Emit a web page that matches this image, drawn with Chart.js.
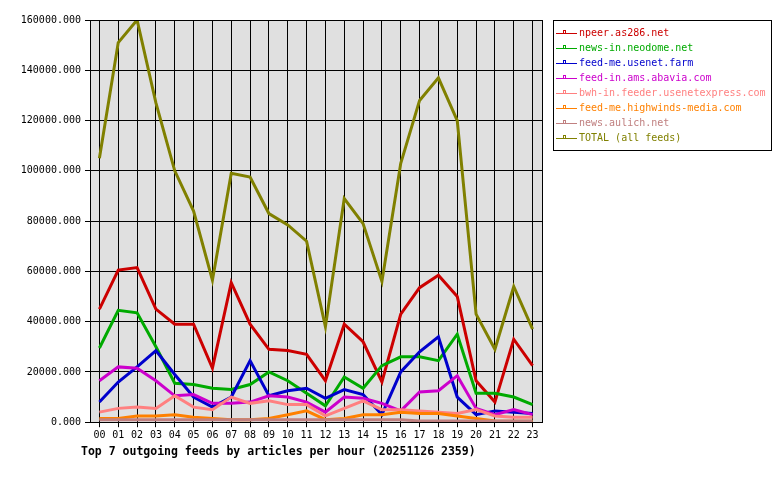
<!DOCTYPE html>
<html lang="en">
<head>
  <meta charset="UTF-8">
  <title>Top 7 outgoing feeds</title>
  <style>
    body {
      margin: 0;
      background-color: white;
    }
    .container {
      width: 780px;
      height: 480px;
      position: relative;
    }
  </style>
  <script src="https://cdn.jsdelivr.net/npm/chart.js"></script>
</head>
<body>
  <div class="container">
    <canvas id="feedChart" width="780" height="480"></canvas>
  </div>

  <script>
    const hours = ['00','01','02','03','04','05','06','07','08','09','10','11',
                   '12','13','14','15','16','17','18','19','20','21','22','23'];

    const npeer     = [45000, 60500, 61500, 45000, 39000, 39000, 21500, 55500, 39000, 29000, 28500, 27000,
                       16500, 39000, 32000, 16000, 43000, 53500, 58500, 50000, 16500, 8000, 33000, 22500];
    const neodome   = [29500, 44500, 43500, 30000, 15500, 15000, 13500, 13000, 15000, 20000, 16500, 11500,
                       6500, 18000, 13500, 22500, 26000, 26000, 24500, 35000, 11500, 11500, 10000, 7000];
    const usenetFarm = [8000, 16000, 22000, 28500, 19000, 10000, 6000, 10000, 24500, 10500, 12500, 13500,
                       9500, 13000, 11000, 3000, 20000, 28000, 34000, 10000, 3000, 4500, 4000, 3500];
    const abavia    = [16500, 22000, 21500, 16500, 10500, 11000, 7500, 7500, 8000, 10500, 10000, 8000,
                       4000, 10000, 9500, 7500, 4500, 12000, 12500, 18500, 5500, 3000, 5000, 3000];
    const usenetExpress = [4000, 5500, 6000, 5500, 10500, 6000, 5000, 10000, 7500, 8500, 7000, 7000,
                       2500, 5500, 8500, 5000, 5000, 4500, 4000, 3500, 5000, 2500, 2000, 2000];
    const highwinds = [1500, 1500, 2500, 2500, 3000, 2000, 1500, 1000, 1000, 1500, 3000, 4500,
                       1000, 1500, 3000, 3000, 4000, 3500, 3500, 2500, 1500, 500, 400, 400];
    const aulich    = [1000, 1000, 1000, 1000, 1000, 1000, 1000, 1000, 1000, 1000, 1000, 1000,
                       1000, 1000, 1000, 1000, 1000, 500, 500, 500, 500, 500, 500, 500];
    const total     = [105000, 151000, 160000, 127000, 100000, 84000, 56500, 99000, 97500, 83000, 78500, 72000,
                       38000, 89000, 79000, 56000, 103000, 128000, 137000, 120000, 43000, 29000, 54000, 37000];

    const feedNames = ['npeer.as286.net', 'news-in.neodome.net', 'feed-me.usenet.farm',
                       'feed-in.ams.abavia.com', 'bwh-in.feeder.usenetexpress.com',
                       'feed-me.highwinds-media.com', 'news.aulich.net', 'TOTAL (all feeds)'];
    const feedValues = [npeer, neodome, usenetFarm, abavia, usenetExpress, highwinds, aulich, total];
    const feedColors = ['#cc0000', '#00aa00', '#0000cc', '#cc00cc', '#ff8080', '#ff8000', '#c08080', '#808000'];

    const mono = '"DejaVu Sans Mono", monospace';

    // plot background + frame, and the boxed legend on the right
    const plotFrame = {
      id: 'plotFrame',
      afterLayout(chart) {
        // title starts a little left of the plot, like the original
        const t = chart.titleBlock;
        if (t) {
          const w = t.right - t.left;
          t.left = 81;
          t.right = 81 + w;
        }
      },
      beforeDraw(chart) {
        const a = chart.chartArea;
        const ctx = chart.ctx;
        ctx.save();
        ctx.fillStyle = '#e0e0e0';
        ctx.fillRect(a.left, a.top, a.right - a.left, a.bottom - a.top);
        ctx.restore();
      },
      afterDraw(chart) {
        const a = chart.chartArea;
        const ctx = chart.ctx;
        ctx.save();
        ctx.strokeStyle = '#000';
        ctx.lineWidth = 1;
        ctx.strokeRect(Math.round(a.left) + 0.5, Math.round(a.top) + 0.5,
                       Math.round(a.right - a.left), Math.round(a.bottom - a.top));

        // legend box
        ctx.fillStyle = '#fff';
        ctx.fillRect(553, 20, 218, 130);
        ctx.strokeRect(553.5, 20.5, 218, 130);
        ctx.font = '10px ' + mono;
        ctx.textBaseline = 'middle';
        chart.data.datasets.forEach((ds, i) => {
          const y = 33.5 + i * 15;
          ctx.strokeStyle = ds.borderColor;
          ctx.beginPath();
          ctx.moveTo(556, y);
          ctx.lineTo(577, y);
          ctx.stroke();
          ctx.strokeRect(563.5, y - 3, 2, 3);
          ctx.fillStyle = ds.borderColor;
          ctx.fillText(ds.label, 579, y);
        });
        ctx.restore();
      }
    };

    const ctx = document.getElementById('feedChart').getContext('2d');
    const feedChart = new Chart(ctx, {
      type: 'line',
      data: {
        labels: hours,
        datasets: feedNames.map((name, i) => ({
          label: name,
          data: feedValues[i],
          borderColor: feedColors[i],
          backgroundColor: feedColors[i],
          borderWidth: 3,
          pointRadius: 0,
          tension: 0,
          fill: false,
          order: feedNames.length - i   // later feeds drawn on top
        }))
      },
      options: {
        responsive: false,
        animation: false,
        layout: {
          padding: { left: 0, top: 20, right: 238, bottom: 21 }
        },
        scales: {
          x: {
            offset: true,
            grid: { offset: false, color: '#000', lineWidth: 1, tickLength: 5, drawTicks: true },
            border: { display: true, color: '#000' },
            ticks: { color: '#000', font: { family: mono, size: 10 }, padding: 2, maxRotation: 0, autoSkip: false },
            afterFit(scale) { scale.height = 22; }
          },
          y: {
            min: 0,
            max: 160000,
            grid: { color: '#000', lineWidth: 1, tickLength: 5, drawTicks: true },
            border: { display: true, color: '#000' },
            ticks: {
              stepSize: 20000,
              color: '#000',
              padding: 4,
              font: { family: mono, size: 10 },
              callback: (v) => Number(v).toFixed(3)
            },
            afterFit(scale) { scale.width = 90; }
          }
        },
        plugins: {
          legend: { display: false },
          tooltip: { enabled: false },
          title: {
            display: true,
            position: 'bottom',
            align: 'start',
            text: 'Top 7 outgoing feeds by articles per hour (20251126 2359)',
            color: '#000',
            font: { family: mono, size: 11.5, weight: 'bold' },
            padding: { top: 1, bottom: 0 }
          }
        }
      },
      plugins: [plotFrame]
    });
  </script>
</body>
</html>
